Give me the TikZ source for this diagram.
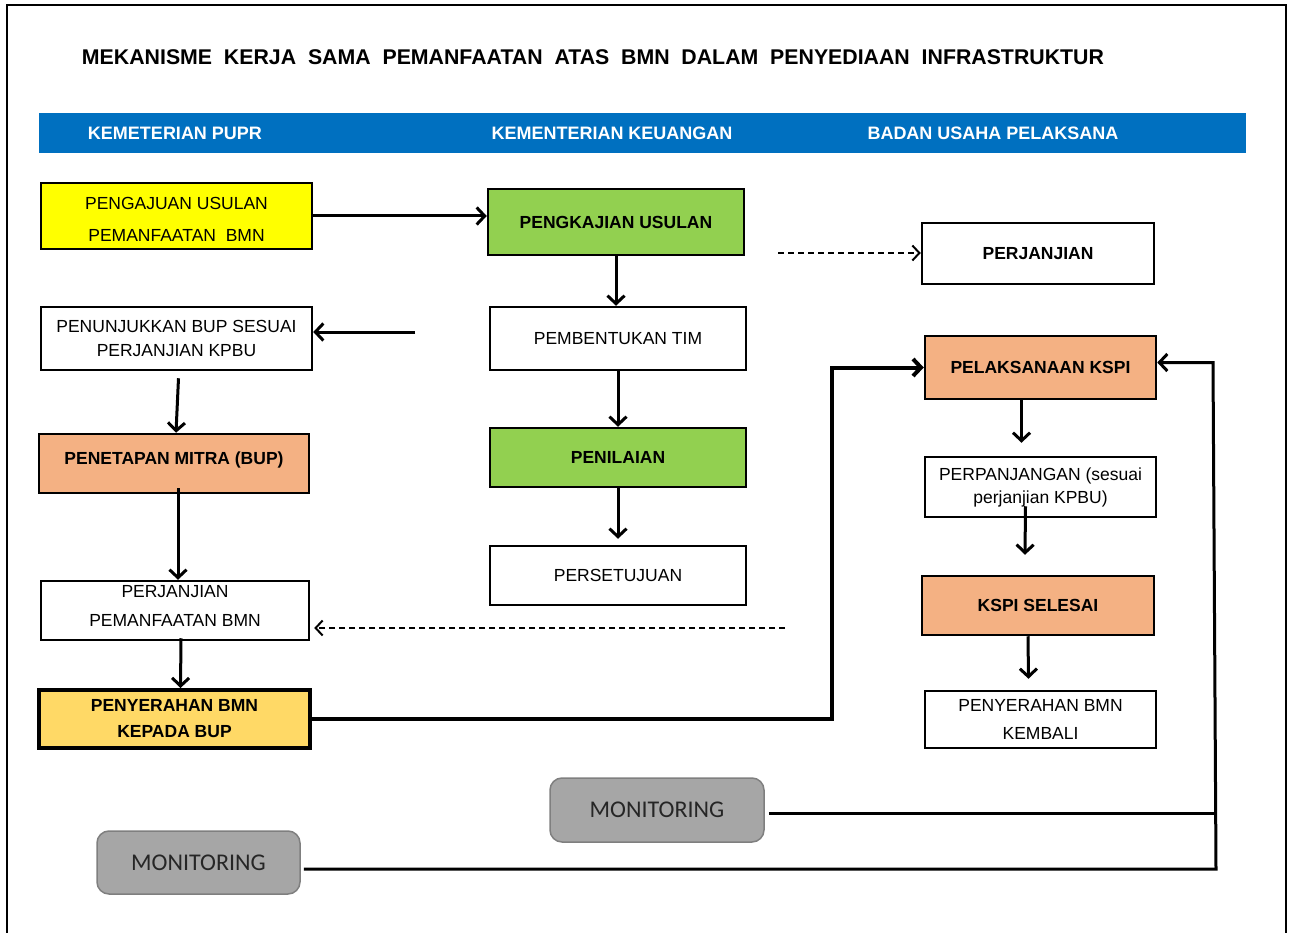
\documentclass[tikz,border=0pt]{standalone}
\usepackage{fontspec}
\setmainfont{Liberation Sans}
\newfontfamily\monfont{Carlito}
\usetikzlibrary{arrows.meta}
\definecolor{bandblue}{HTML}{0070C0}
\definecolor{ylw}{HTML}{FFFF00}
\definecolor{grn}{HTML}{92D050}
\definecolor{peach}{HTML}{F4B183}
\definecolor{gold}{HTML}{FFD966}
\definecolor{mongray}{HTML}{A6A6A6}
\definecolor{monedge}{HTML}{7F7F7F}
% shift a label vertically without changing the space it takes
\newcommand{\liftby}[2]{\raisebox{#1}[\height][\depth]{#2}}
\begin{document}
\begin{tikzpicture}[x=1pt,y=-1pt,
  box/.style={draw=black, line width=2.5pt, inner sep=0pt, align=center,
    font=\fontsize{17.5}{24}\selectfont},
  boldbox/.style={box, font=\bfseries\fontsize{17.5}{24}\selectfont},
  monbox/.style={draw=monedge, fill=mongray, line width=1.5pt, rounded corners=12pt,
    inner sep=0pt, font=\monfont\fontsize{24}{28}\selectfont, text=black!85},
  headtext/.style={text=white, font=\bfseries\fontsize{18}{20}\selectfont},
  flow/.style={line width=3pt, -{Straight Barb[length=8pt,width=17pt]}},
  dflow/.style={line width=2pt, dash pattern=on 6pt off 4pt,
    -{Straight Barb[length=7pt,width=15pt]}},
  link/.style={line width=3pt}
]
\useasboundingbox (0,0) rectangle (1290,933);

% outer frame
\draw[line width=2pt] (7,933) -- (7,5) -- (1286,5) -- (1286,933);

% title and column header band
\node[font=\bfseries\fontsize{21.3}{24}\selectfont] (title) at (593,57)
  {MEKANISME\ \ KERJA\ \ SAMA\ \ PEMANFAATAN\ \ ATAS\ \ BMN\ \ DALAM\ \ PENYEDIAAN\ \ INFRASTRUKTUR};
\fill[bandblue] (39,113) rectangle (1246,153);
\node[headtext] (h1) at (175,133) {KEMETERIAN PUPR};
\node[headtext] (h2) at (612,133) {KEMENTERIAN KEUANGAN};
\node[headtext] (h3) at (993,133) {BADAN USAHA PELAKSANA};

% left column
\node[box, fill=ylw, minimum width=271pt, minimum height=66pt,
  font=\fontsize{17.5}{32}\selectfont] (n1) at (176.5,216)
  {\liftby{-3pt}{\parbox{260pt}{\centering PENGAJUAN USULAN\\ PEMANFAATAN\ \ BMN}}};
\node[box, minimum width=271pt, minimum height=63pt] (n2) at (176.5,338.5)
  {PENUNJUKKAN BUP SESUAI\\ PERJANJIAN KPBU};
\node[boldbox, fill=peach, minimum width=270pt, minimum height=59pt] (n3) at (174,463.5)
  {\liftby{4pt}{PENETAPAN MITRA (BUP)}};
\node[box, minimum width=268pt, minimum height=59pt,
  font=\fontsize{17.5}{29}\selectfont] (n4) at (175,610.5)
  {\liftby{5pt}{\parbox{260pt}{\centering PERJANJIAN\\ PEMANFAATAN\ BMN}}};
\node[boldbox, fill=gold, line width=4pt, minimum width=271pt, minimum height=58pt,
  font=\bfseries\fontsize{17.5}{26}\selectfont] (n5) at (174.5,719)
  {PENYERAHAN BMN\\ KEPADA BUP};

% middle column
\node[boldbox, fill=grn, minimum width=256pt, minimum height=66pt] (n6) at (616,222)
  {PENGKAJIAN USULAN};
\node[box, minimum width=256pt, minimum height=63pt] (n7) at (618,338.5)
  {PEMBENTUKAN TIM};
\node[boldbox, fill=grn, minimum width=256pt, minimum height=59pt] (n8) at (618,457.5)
  {PENILAIAN};
\node[box, minimum width=256pt, minimum height=59pt] (n9) at (618,575.5)
  {PERSETUJUAN};

% right column
\node[boldbox, minimum width=232pt, minimum height=61pt] (n10) at (1038,253.5)
  {PERJANJIAN};
\node[boldbox, fill=peach, minimum width=231pt, minimum height=63pt] (n11) at (1040.5,367.5)
  {PELAKSANAAN KSPI};
\node[box, minimum width=231pt, minimum height=60pt,
  font=\fontsize{17.5}{23}\selectfont] (n12) at (1040.5,487)
  {PERPANJANGAN (sesuai\\ perjanjian KPBU)};
\node[boldbox, fill=peach, minimum width=232pt, minimum height=59pt] (n13) at (1038,605.5)
  {KSPI SELESAI};
\node[box, minimum width=231pt, minimum height=57pt,
  font=\fontsize{17.5}{28}\selectfont] (n14) at (1040.5,719.5)
  {PENYERAHAN BMN\\ KEMBALI};

% monitoring
\node[monbox, minimum width=214pt, minimum height=64pt] (m1) at (657,810) {MONITORING};
\node[monbox, minimum width=203pt, minimum height=63pt] (m2) at (198.5,862.5) {MONITORING};

% free ends and bends
\coordinate (p5) at (415,332);
\coordinate (p9) at (785,628);
\coordinate (p10) at (778,253);
\coordinate (k1) at (832,0);
\coordinate (k2) at (1213,0);

% connectors
\draw[flow] (n1.east) -- (n6.west |- n1.east);
\draw[flow] (n6.south) -- (n6.south |- n7.north);
\draw[flow] (n7.south) -- (n8.north);
\draw[flow] (n8.south) -- ([yshift=6pt]n9.north);
\draw[flow] (p5) -- (n2.east |- p5);
\draw[flow] ([xshift=2pt,yshift=-7pt]n2.south) -- ([xshift=2pt]n3.north);
\draw[flow] ([xshift=4pt,yshift=6pt]n3.south) -- ([xshift=3pt]n4.north);
\draw[flow] ([xshift=6pt,yshift=3pt]n4.south) -- ([xshift=6pt]n5.north);
\draw[dflow] (p9) -- ([xshift=4pt]n4.east |- p9);
\draw[dflow] (p10) -- (n10.west |- p10);
\draw[line width=4pt, -{Straight Barb[length=8pt,width=17pt]}]
  (n5.east) -- (n5.east -| k1) -- (k1 |- n11.west) -- (n11.west);
\draw[flow] ([xshift=-19pt]n11.south) -- ([xshift=-19pt,yshift=13pt]n12.north);
\draw[flow] ([xshift=-15pt,yshift=12pt]n12.south) -- ([xshift=-13pt,yshift=20pt]n13.north);
\draw[flow] ([xshift=-10pt]n13.south) -- ([xshift=-12pt,yshift=11pt]n14.north);
\draw[link] ([xshift=4pt,yshift=-3pt]m1.east) -- ([xshift=4pt,yshift=-3pt]m1.east -| k2);
\draw[link, -{Straight Barb[length=8pt,width=17pt]}]
  ([xshift=3pt,yshift=-6.5pt]m2.east) -- ([xshift=3pt,yshift=-6.5pt]m2.east -| k2)
  -- ([yshift=5pt]k2 |- n11.east) -- ([yshift=5pt]n11.east);
\end{tikzpicture}
\end{document}
